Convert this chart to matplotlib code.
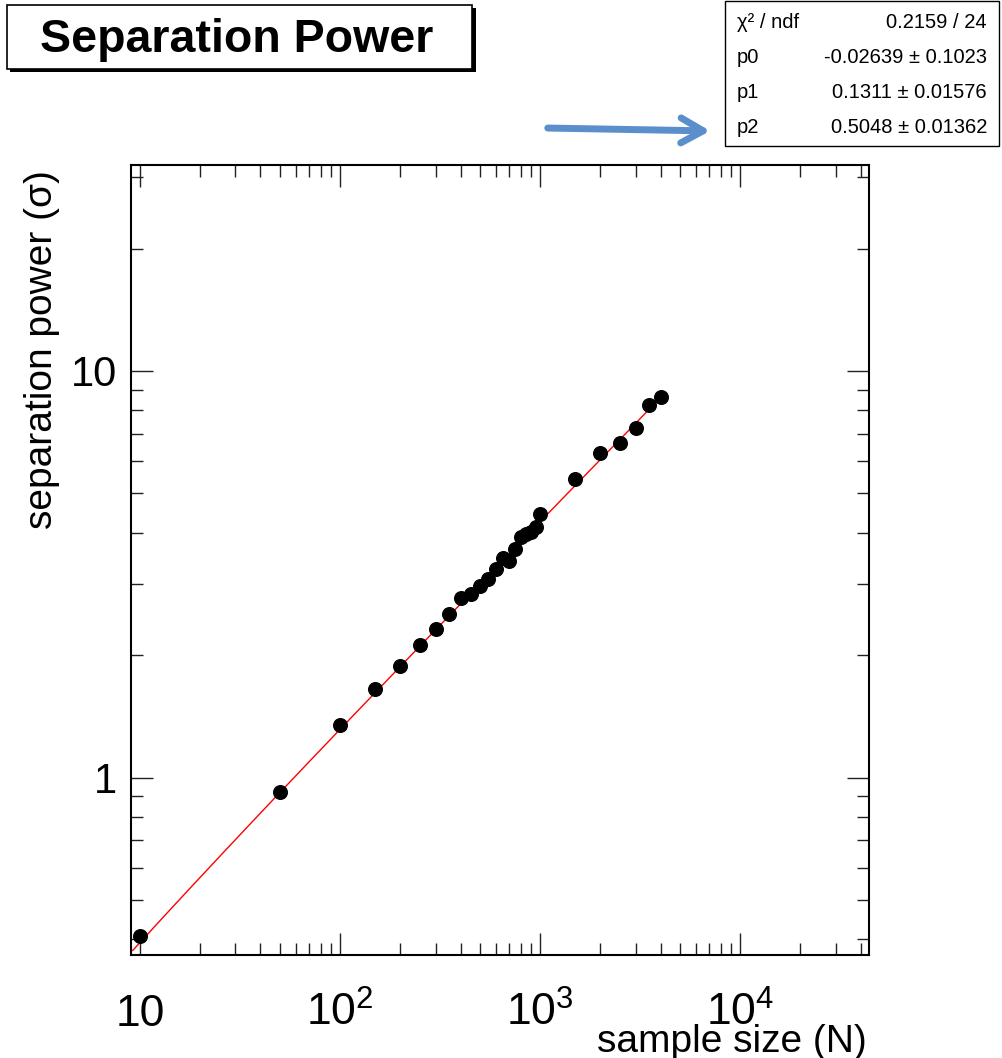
import numpy as np
import matplotlib
matplotlib.use('Agg')
import matplotlib.pyplot as plt
from matplotlib.patches import Rectangle, FancyArrowPatch
from matplotlib.ticker import FixedLocator, NullFormatter

plt.rcParams['font.family'] = ['Liberation Sans', 'DejaVu Sans']
plt.rcParams['mathtext.fontset'] = 'custom'
plt.rcParams['mathtext.rm'] = 'Liberation Sans'
plt.rcParams['mathtext.it'] = 'Liberation Sans:italic'

# sample size vs separation power
sample_size = [10, 50, 100, 150, 200, 250, 300, 350, 400, 450, 500, 550, 600, 650,
               700, 750, 800, 850, 900, 950, 1000, 1500, 2000, 2500, 3000, 3500, 4000]
sep_power = [0.408, 0.922, 1.35, 1.65, 1.88, 2.12, 2.32, 2.52, 2.77, 2.82, 2.96, 3.08,
             3.26, 3.46, 3.40, 3.64, 3.91, 3.98, 4.02, 4.13, 4.46, 5.43, 6.28, 6.65,
             7.24, 8.24, 8.64]

# fit p0 + p1 * N^p2 (values from the stats box)
p0, p1, p2 = -0.02639, 0.1311, 0.5048
stats_labels = ['χ² / ndf', 'p0', 'p1', 'p2']
stats_values = ['0.2159 / 24', '-0.02639 ± 0.1023', '0.1311 ± 0.01576', '0.5048 ± 0.01362']

x_ticks = [10, 100, 1000, 10000]
x_ticklabels = ['10', '$10^{2}$', '$10^{3}$', '$10^{4}$']
y_ticks = [1, 10]
y_ticklabels = ['1', '10']

W, H = 1003, 1058
fig = plt.figure(figsize=(W / 100, H / 100), dpi=100)
ax = fig.add_axes([131 / W, (H - 955) / H, 738 / W, 790 / H])
ax.set_xscale('log')
ax.set_yscale('log')

xfit = np.logspace(np.log10(9.2), np.log10(4000), 300)
ax.plot(xfit, p0 + p1 * xfit ** p2, color='red', lw=1.0, zorder=2)
ax.plot(sample_size, sep_power, 'o', color='black', ms=9.8, zorder=3)

ax.set_xlim(9.02, 44000)
ax.set_ylim(0.366, 32.1)

ax.xaxis.set_major_locator(FixedLocator(x_ticks))
ax.set_xticklabels(x_ticklabels)
xminor = [m * 10 ** d for d in range(0, 5) for m in range(2, 10)]
ax.xaxis.set_minor_locator(FixedLocator(xminor))
ax.xaxis.set_minor_formatter(NullFormatter())

ax.yaxis.set_major_locator(FixedLocator(y_ticks))
ax.set_yticklabels(y_ticklabels)
yminor = [m * 10.0 ** d for d in range(-1, 2) for m in range(2, 10)]
ax.yaxis.set_minor_locator(FixedLocator(yminor))
ax.yaxis.set_minor_formatter(NullFormatter())

ax.tick_params(which='both', direction='in', top=True, right=True, width=1.0, color='#222222')
ax.tick_params(which='major', length=16)
ax.tick_params(which='minor', length=8.3)
ax.tick_params(axis='x', which='major', labelsize=32, pad=51)
ax.tick_params(axis='y', which='major', labelsize=30, pad=10)
for lab in ax.get_xticklabels():
    lab.set_va('baseline')
for sp in ax.spines.values():
    sp.set_linewidth(1.5)

ax.set_xlabel('sample size (N)', fontsize=28, loc='right')
ax.xaxis.label.set_va('baseline')
ax.xaxis.set_label_coords(1 - 2 / 738, -(1052 - 955) / 790)
ax.set_ylabel('separation power (σ)', fontsize=28, loc='top')
ax.yaxis.set_label_coords((60 - 131) / 738, 1 - 5 / 790)


def fx(px):
    return px / W


def fy(py):
    return 1 - py / H


# title box with shadow
fig.add_artist(Rectangle((fx(10), fy(72)), (476 - 10) / W, (72 - 8) / H,
                         transform=fig.transFigure, facecolor='black', edgecolor='none'))
fig.add_artist(Rectangle((fx(7), fy(69)), (472 - 7) / W, (69 - 5) / H,
                         transform=fig.transFigure, facecolor='white', edgecolor='black', lw=1.2))
fig.text(fx(237), fy(52), 'Separation Power', fontsize=33.5, fontweight='bold',
         ha='center', va='baseline')

# stats box
fig.add_artist(Rectangle((fx(725), fy(146)), (999 - 725) / W, (146 - 1) / H,
                         transform=fig.transFigure, facecolor='white', edgecolor='black', lw=1.0))
for i, (lab, val) in enumerate(zip(stats_labels, stats_values)):
    base = 28 + 35 * i
    fig.text(fx(737), fy(base), lab, fontsize=14.5, ha='left', va='baseline')
    fig.text(fx(987), fy(base), val, fontsize=14.5, ha='right', va='baseline')

# blue arrow pointing at the stats box
arrow = FancyArrowPatch((fx(545), fy(128)), (fx(713), fy(131)), transform=fig.transFigure,
                        arrowstyle='->,head_length=0.8,head_width=0.45', mutation_scale=20,
                        color='#5b8fcb', lw=5, capstyle='round', joinstyle='round')
fig.add_artist(arrow)

fig.savefig('out.png', dpi=100)
